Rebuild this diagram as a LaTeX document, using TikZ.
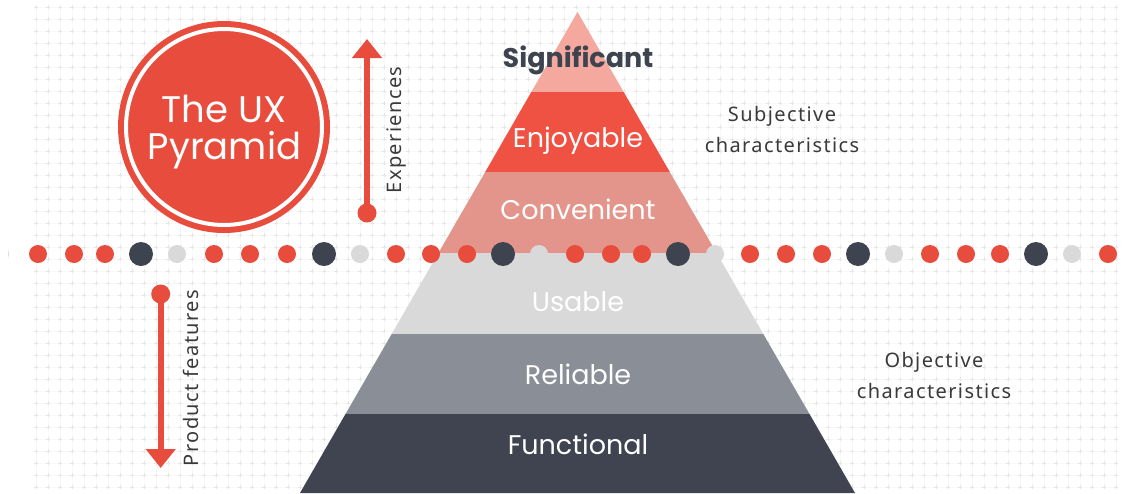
\documentclass[tikz,border=0pt]{standalone}
\usepackage{fontspec}
\usetikzlibrary{arrows.meta}
\newfontfamily\popfont{Poppins}
\newfontfamily\sidefont[LetterSpace=7]{Noto Sans}
\definecolor{uxred}{HTML}{E84C3D}
\definecolor{uxdark}{HTML}{3E4350}
\definecolor{uxlight}{HTML}{D9D9D9}
\definecolor{bandA}{HTML}{F5A89D}
\definecolor{bandB}{HTML}{EF5142}
\definecolor{bandC}{HTML}{E4958B}
\definecolor{bandD}{HTML}{D9D9D9}
\definecolor{bandE}{HTML}{8A8E96}
\definecolor{bandF}{HTML}{3F4450}
\definecolor{gridfaint}{HTML}{F8F8F8}
\definecolor{gridmk}{HTML}{E6E6E6}
\definecolor{textgrey}{HTML}{3A3A3A}
\begin{document}
\begin{tikzpicture}[x=1pt,y=-1pt,
  gridline/.style={draw=gridfaint, line width=0.5pt},
  gridmark/.style={draw=gridmk, line width=0.8pt, dash pattern=on 4pt off 8pt},
  bandlabel/.style={font=\popfont\fontsize{27}{30}\selectfont, text=white, inner sep=0pt, anchor=base},
  toplabel/.style={font=\popfont\bfseries\fontsize{27}{30}\selectfont, text=uxdark, inner sep=0pt, anchor=base},
  circlabel/.style={font=\popfont\fontsize{37}{40}\selectfont, text=white, inner sep=0pt, anchor=base},
  sidelabel/.style={font=\sidefont\fontsize{20}{24}\selectfont, text=textgrey, inner sep=0pt, anchor=base},
  axislabel/.style={font=\sidefont\fontsize{20}{24}\selectfont, text=textgrey, inner sep=0pt, rotate=90},
  reddot/.style={circle, fill=uxred, minimum size=18pt, inner sep=0pt},
  darkdot/.style={circle, fill=uxdark, minimum size=24pt, inner sep=0pt},
  lightdot/.style={circle, fill=uxlight, minimum size=18pt, inner sep=0pt},
  axisarrow/.style={draw=uxred, line width=6pt, -{Triangle[width=29pt,length=19pt]}},
  axisdot/.style={circle, fill=uxred, minimum size=19pt, inner sep=0pt},
]
\useasboundingbox (0,0) rectangle (1134,493);
\fill[white] (0,0) rectangle (1134,493);
% background grid
\foreach \y in {7,19,...,487} \draw[gridline] (36,\y) -- (1116,\y);
\foreach \x in {36,48,...,1116} \draw[gridline] (\x,7) -- (\x,487);
\foreach \y in {7,19,...,487} \draw[gridmark] (34,\y) -- (1118,\y);
\foreach \x in {36,48,...,1116} \draw[gridmark] (\x,5) -- (\x,489);
% pyramid bands
\fill[bandA] (577.5,12) -- (623.7,92) -- (531.3,92) -- cycle;
\fill[bandB] (531.3,92) -- (623.7,92) -- (669.8,172) -- (485.2,172) -- cycle;
\fill[bandC] (485.2,172) -- (669.8,172) -- (716.6,253) -- (438.4,253) -- cycle;
\fill[bandD] (438.4,253) -- (716.6,253) -- (763.3,334) -- (391.7,334) -- cycle;
\fill[bandE] (391.7,334) -- (763.3,334) -- (809.5,414) -- (345.5,414) -- cycle;
\fill[bandF] (345.5,414) -- (809.5,414) -- (855,493) -- (300,493) -- cycle;
% band labels
\node[toplabel] (significant) at (578,67.5) {Significant};
\node[bandlabel] (enjoyable) at (578,147.5) {Enjoyable};
\node[bandlabel] (convenient) at (578,219.5) {Convenient};
\node[bandlabel] (usable) at (578,311.5) {Usable};
\node[bandlabel] (reliable) at (578,384.5) {Reliable};
\node[bandlabel] (functional) at (578,454.5) {Functional};
% title circle
\node[circle, fill=uxred, minimum size=212pt, inner sep=0pt] (badge) at (224,127) {};
\draw[white, line width=4pt] (badge.center) circle[radius=98];
\node[circlabel] (title1) at (224,122) {The UX};
\node[circlabel] (title2) at (224.5,159) {Pyramid};
% side labels
\node[sidelabel] (subj1) at (782,121) {Subjective};
\node[sidelabel] (subj2) at (782,152) {characteristics};
\node[sidelabel] (obj1) at (934,367) {Objective};
\node[sidelabel] (obj2) at (934,398) {characteristics};
% axis arrows
\node[axisdot] (expstart) at (367,213) {};
\coordinate (exptip) at (367,39);
\draw[axisarrow] (expstart.center) -- (exptip);
\node[axislabel] (explabel) at (397,130) {Experiences};
\node[axisdot] (prodstart) at (160.7,294) {};
\coordinate (prodtip) at (160.7,468);
\draw[axisarrow] (prodstart.center) -- (prodtip);
\node[axislabel] (prodlabel) at (191,378) {Product features};
% dotted divider
\begin{scope}
\clip (8,230) rectangle (20,280);
\node[lightdot] (d0) at (0,254) {};
\end{scope}
\foreach \x/\s [count=\i] in {38/reddot,74/reddot,105/reddot,141/darkdot,177/lightdot,
  214/reddot,250/reddot,287/reddot,324/darkdot,360/lightdot,
  396/reddot,431/reddot,467/reddot,503/darkdot,539/lightdot,
  575/reddot,611/reddot,642/reddot,678/darkdot,715/lightdot,
  750/reddot,786/reddot,822/reddot,858/darkdot,894/lightdot,
  930/reddot,966/reddot,1000/reddot,1036/darkdot,1072/lightdot,1108/reddot}
  \node[\s] (d\i) at (\x,254) {};
\end{tikzpicture}
\end{document}
